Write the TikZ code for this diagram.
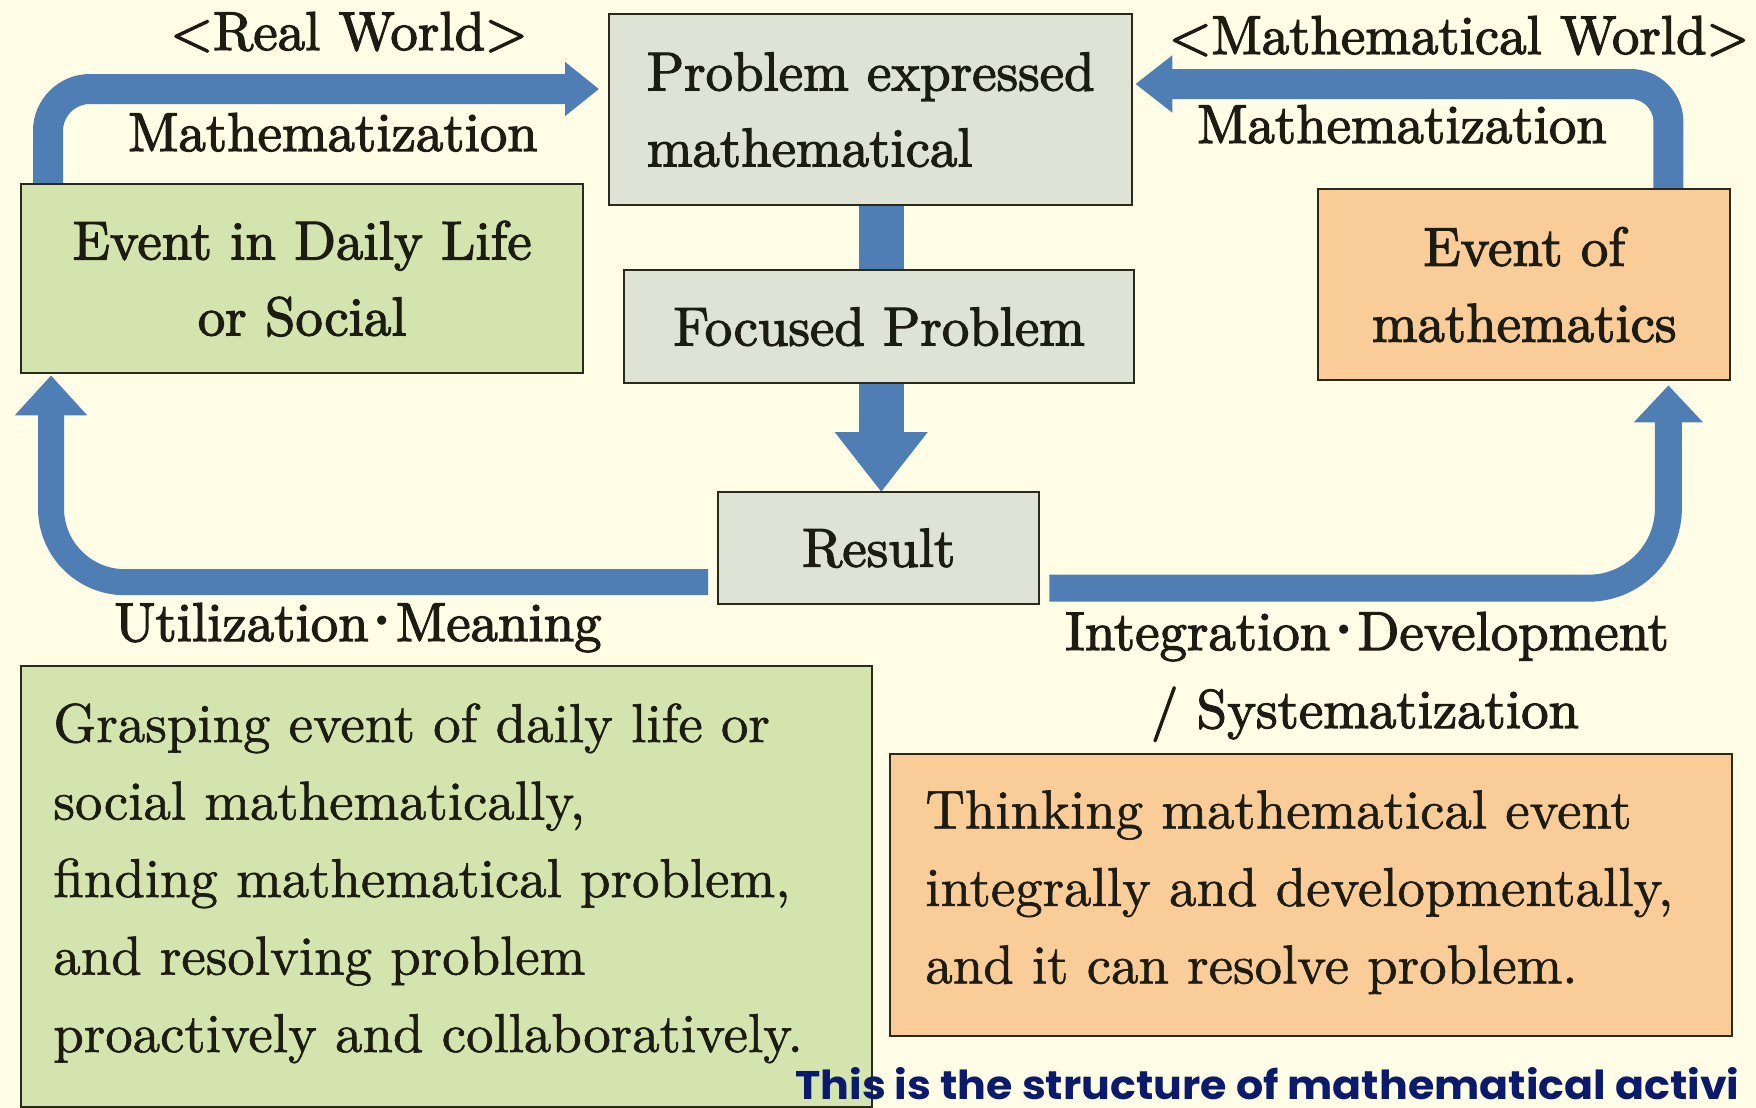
\documentclass[tikz,border=0pt]{standalone}
\usepackage{fontspec}
\usepackage{graphicx}
\usetikzlibrary{arrows.meta,calc,backgrounds}
\newfontfamily\labfont{lmroman10-regular.otf}[FakeBold=2.2]
\newfontfamily\bodyfont{lmroman10-regular.otf}[FakeBold=1.1]
\newfontfamily\cjkfont{Noto Sans CJK SC}
\newfontfamily\capfont{Poppins}
\definecolor{paper}{HTML}{FFFDE5}
\definecolor{leaf}{HTML}{D4E4AE}
\definecolor{peach}{HTML}{F9CC98}
\definecolor{stone}{HTML}{DEE3D6}
\definecolor{flow}{HTML}{4F7EB5}
\definecolor{rim}{HTML}{2A2A1C}
\definecolor{ink}{HTML}{1C1C12}
\definecolor{navy}{HTML}{0C1A6E}
% half-width middle dot between two words
\newcommand{\mdot}{{\cjkfont ･}}

\begin{document}
\begin{tikzpicture}[x=0.5pt,y=-0.5pt,
  panel/.style={draw=rim, line width=1.2pt, inner sep=0pt, anchor=north west,
    text=ink, align=center, font=\labfont\fontsize{27.4pt}{38pt}\selectfont},
  lab/.style={anchor=base, inner sep=0pt, text=ink,
    font=\labfont\fontsize{27.4pt}{38pt}\selectfont},
  body/.style={anchor=north west, inner sep=0pt, text=ink, align=left,
    font=\bodyfont\fontsize{27.4pt}{38.75pt}\selectfont},
  flowline/.style={draw=flow, line width=15pt},
]
\useasboundingbox (0,0) rectangle (1756,1108);

% boxes
\node[panel, fill=leaf, minimum width=281pt, minimum height=94.5pt] (daily) at (20,183)
  {Event in Daily Life\\or Social};
\node[panel, fill=stone, align=left, minimum width=261.5pt, minimum height=95.5pt] (prob) at (608,13)
  {Problem expressed\\mathematical};
\node[panel, fill=stone, minimum width=255pt, minimum height=56.5pt] (focus) at (623,269)
  {Focused Problem};
\node[panel, fill=stone, minimum width=160.5pt, minimum height=56pt] (res) at (717,491)
  {Result};
\node[panel, fill=peach, minimum width=206pt, minimum height=95.5pt] (mevent) at (1317,188)
  {Event of\\mathematics};
\node[panel, fill=leaf, minimum width=425.5pt, minimum height=220.5pt] (gbox) at (20,665) {};
\node[panel, fill=peach, minimum width=421pt, minimum height=141pt] (obox) at (889,753) {};

% descriptions
\node[body] (gtext) at (53,703)
  {Grasping event of daily life or\\social mathematically,\\finding mathematical problem,\\and resolving problem\\proactively and collaboratively.};
\node[body] (otext) at (925,790)
  {Thinking mathematical event\\integrally and developmentally,\\and it can resolve problem.};

% headings and arrow labels
\node[lab] (realw) at (349,50) {<Real World>};
\node[lab] (mathw) at (1459,54) {<Mathematical World>};
\node[lab] (mleft) at (333,151) {Mathematization};
\node[lab] (mright) at (1402,143) {Mathematization};
\node[lab] (util) at (358,641) {Utilization\mdot Meaning};
\node[lab] (integ) at (1367,650) {Integration\mdot Development};
\node[lab] (syst) at (1365,728) {/ Systematization};

% caption
\node[anchor=base west, inner sep=0pt, text=navy] (cap) at (795,1099)
  {\resizebox{472pt}{16pt}{\capfont\bfseries This is the structure of mathematical activi}};

\begin{scope}[on background layer]
  \fill[paper] (0,0) rectangle (1756,1108);
  % mathematization, real world side
  \draw[flowline, rounded corners=21pt, -{Triangle[width=26pt,length=17pt]}]
    ($(daily.north west)+(28,0)$) |- ($(prob.north west)+(-9,76)$);
  % mathematization, mathematical world side
  \draw[flowline, rounded corners=19pt, -{Triangle[width=27.5pt,length=18.5pt]}]
    ($(mevent.north east)+(-63,0)$) |- ($(prob.north east)+(2,71)$);
  % utilization / meaning
  \draw[flowline, line width=13pt, rounded corners=37pt, -{Triangle[width=35pt,length=20pt]}]
    ($(res.west)+(-9,34)$) -| ($(daily.south west)+(31,1)$);
  % integration / development
  \draw[flowline, line width=13.5pt, rounded corners=40pt, -{Triangle[width=33.5pt,length=18.5pt]}]
    ($(res.east)+(9,40)$) -| ($(mevent.south east)+(-63,4)$);
  % central column
  \draw[flowline, line width=22.5pt] ($(prob.south)+(10.5,0)$) -- ($(focus.north)+(2,0)$);
  \draw[flowline, line width=22.5pt, -{Triangle[width=44.5pt,length=30pt]}]
    ($(focus.south)+(2,0)$) -- ($(res.north)+(2.5,1)$);
\end{scope}
\end{tikzpicture}
\end{document}
